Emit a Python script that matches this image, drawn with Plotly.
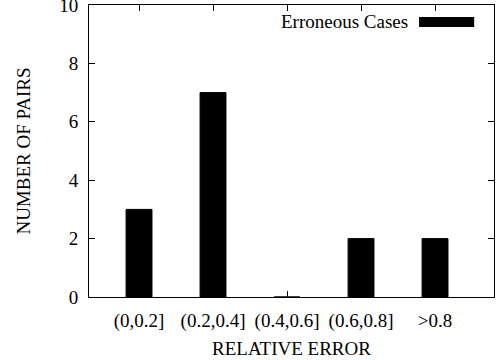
import plotly.graph_objects as go

# Histogram of relative error for the erroneous cases
categories = ["(0,0.2]", "(0.2,0.4]", "(0.4,0.6]", "(0.6,0.8]", ">0.8"]
pair_counts = [3, 7, 0, 2, 2]
y_ticks = [0, 2, 4, 6, 8, 10]

positions = list(range(len(categories)))
serif = "Liberation Serif, Times New Roman, serif"
FS = 19

fig = go.Figure()
fig.add_trace(go.Bar(
    x=positions,
    y=pair_counts,
    width=0.35,
    name="Erroneous Cases",
    marker=dict(color="black", line=dict(color="black", width=1)),
    showlegend=False,
))

# key entry drawn in the upper right corner
fig.add_annotation(
    xref="paper", yref="paper", x=0.793, y=0.942,
    xanchor="right", yanchor="middle",
    text="Erroneous Cases", showarrow=False,
    font=dict(family=serif, size=FS, color="black"),
)
fig.add_shape(
    type="rect", xref="paper", yref="paper",
    x0=0.815, x1=0.951, y0=0.925, y1=0.959,
    fillcolor="black", line=dict(width=0),
)

axis_common = dict(
    showline=True, linecolor="black", linewidth=1, mirror="allticks",
    ticks="inside", ticklen=6, tickcolor="black", tickwidth=1,
    showgrid=False, zeroline=False, ticklabeloverflow="allow",
    automargin=False,
    tickfont=dict(family=serif, size=FS, color="black"),
)

fig.update_layout(
    width=504, height=360,
    margin=dict(l=89, r=10, t=5, b=63),
    paper_bgcolor="white", plot_bgcolor="white",
    font=dict(family=serif, size=FS, color="black"),
    xaxis=dict(
        axis_common,
        range=[-0.676, 4.797],
        tickmode="array", tickvals=positions, ticktext=categories,
        ticklabelstandoff=6,
        title=dict(text="RELATIVE ERROR", font=dict(family=serif, size=FS, color="black"), standoff=10),
    ),
    yaxis=dict(
        axis_common,
        range=[0, 10],
        tickmode="array", tickvals=y_ticks,
        ticklabelstandoff=6,
        title=dict(text="NUMBER OF PAIRS", font=dict(family=serif, size=FS, color="black"), standoff=23),
    ),
)

fig.write_html("out.html")
